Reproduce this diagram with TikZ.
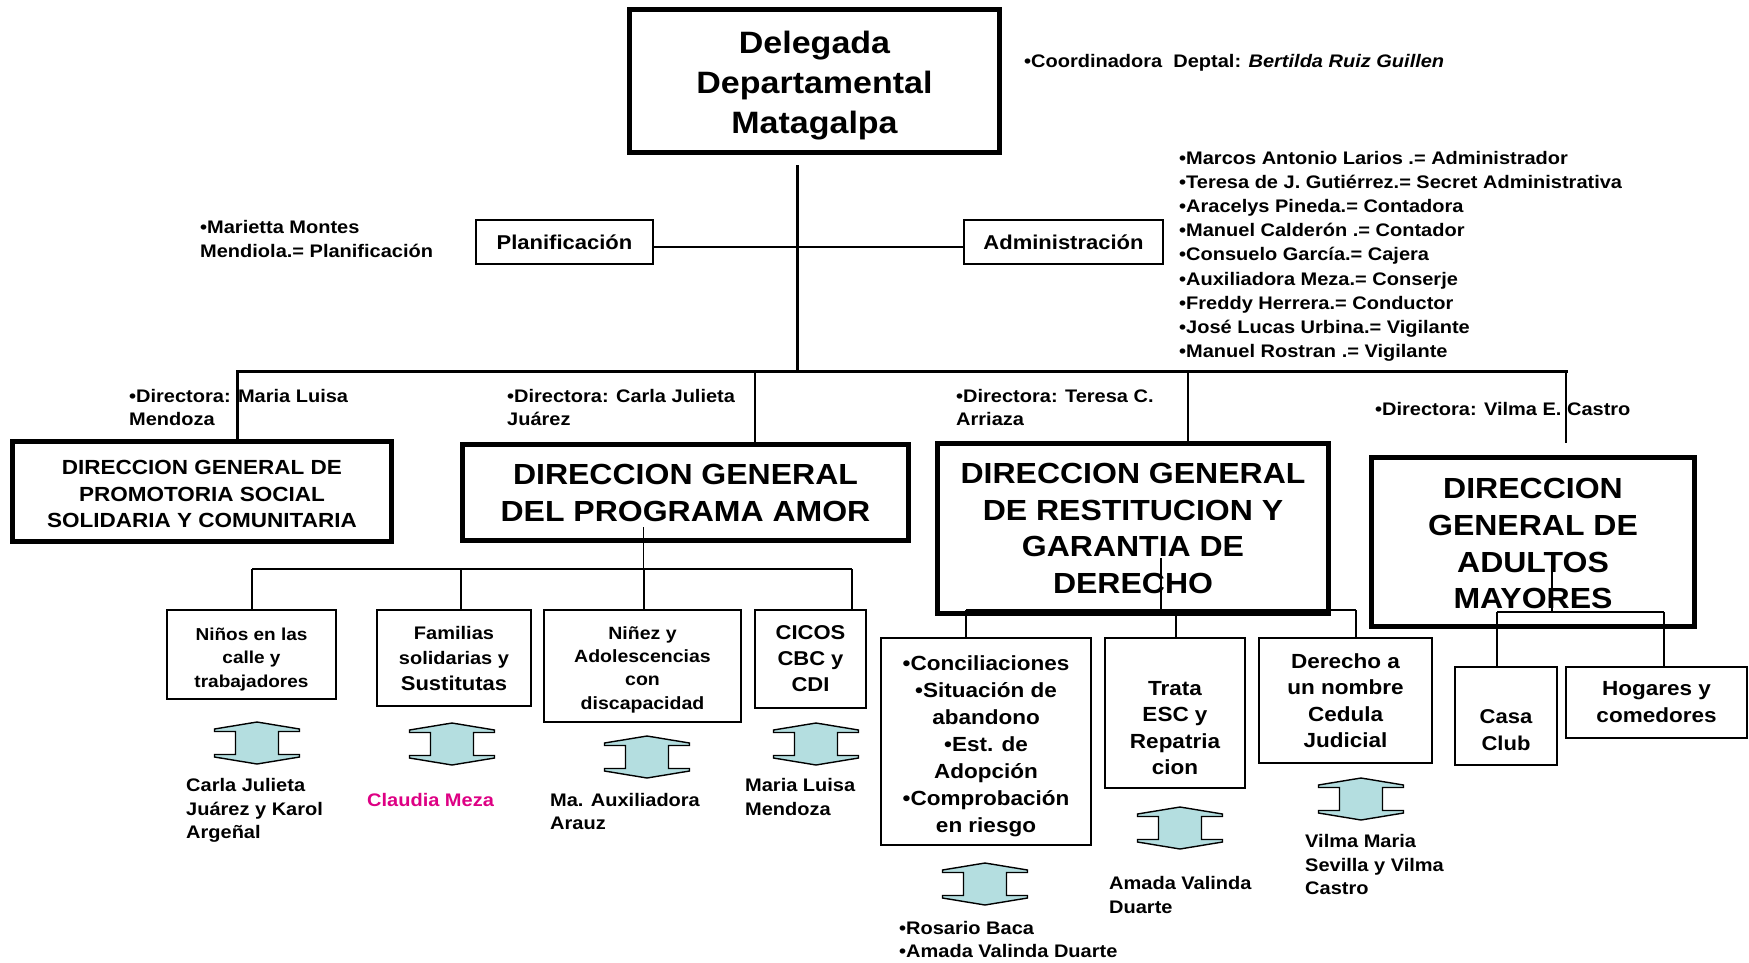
\documentclass[tikz,border=0pt]{standalone}
\usepackage{fontspec}
\setmainfont{Liberation Sans}[FakeStretch=1.1]
\definecolor{arrowfill}{RGB}{180,222,224}
\definecolor{magentatxt}{RGB}{222,0,132}
\newcommand\fsz[2]{\fontsize{\fpeval{#1/1.1}}{#2}\selectfont\bfseries}
\newcommand\dn[1]{\rule{0pt}{\dimexpr0.75em+#1*2\relax}}
\begin{document}
\begin{tikzpicture}[x=1pt,y=-1pt,
  bigbox/.style={draw, line width=5pt, inner sep=0pt, align=center},
  thinbox/.style={draw, line width=1.6pt, inner sep=0pt, align=center},
  lbl/.style={inner sep=0pt, align=left, anchor=west, font=\fsz{20}{23.5}},
  busline/.style={line width=3.5pt, line cap=rect},
  dropline/.style={line width=2.5pt},
  subline/.style={line width=1.6pt},
  udarr/.pic={\draw[fill=arrowfill, line width=1.4pt, line join=miter]
     (0,0) -- (42.5,7) -- (42.5,9.5) -- (21.5,9.5) -- (21.5,32.5) -- (42.5,32.5)
     -- (42.5,35) -- (0,42) -- (-42.5,35) -- (-42.5,32.5) -- (-21.5,32.5)
     -- (-21.5,9.5) -- (-42.5,9.5) -- (-42.5,7) -- cycle;}
]
\useasboundingbox (0,0) rectangle (1749,962);
\fill[white] (0,0) rectangle (1749,962);

% top
\node[bigbox, minimum width=370pt, minimum height=143pt, font=\fsz{34}{40}] (top) at (814.5,81) {\dn{4.5pt}Delegada\\Departamental\\Matagalpa};
\node[lbl] (coord) at (1024,62.3) {•Coordinadora\ \ Deptal: \textit{Bertilda Ruiz Guillen}};

% staff
\node[thinbox, minimum width=177pt, minimum height=44pt, font=\fsz{22}{26}] (plan) at (564.5,242) {Planificación};
\node[thinbox, minimum width=199pt, minimum height=44pt, font=\fsz{22}{26}] (admin) at (1063.5,242) {Administración};
\node[lbl, font=\fsz{20}{24}] (mari) at (200,239.2) {•Marietta Montes\\Mendiola.= Planificación};
\node[lbl, font=\fsz{20}{24.1}] (adlist) at (1179,256.3) {•Marcos Antonio Larios .= Administrador\\
•Teresa de J. Gutiérrez.= Secret Administrativa\\
•Aracelys Pineda.= Contadora\\
•Manuel Calderón .= Contador\\
•Consuelo García.= Cajera\\
•Auxiliadora Meza.= Conserje\\
•Freddy Herrera.= Conductor\\
•José Lucas Urbina.= Vigilante\\
•Manuel Rostran .= Vigilante};

% directions
\node[bigbox, minimum width=379pt, minimum height=100pt, font=\fsz{22.5}{26.3}] (b1) at (202,491.5) {\dn{2.2pt}DIRECCION GENERAL DE\\PROMOTORIA SOCIAL\\SOLIDARIA Y COMUNITARIA};
\node[bigbox, minimum width=446pt, minimum height=96pt, font=\fsz{32}{37}] (b2) at (685.5,492.5) {DIRECCION GENERAL\\DEL PROGRAMA AMOR};
\node[bigbox, minimum width=391pt, minimum height=170pt, font=\fsz{32}{36.8}] (b3) at (1133,528.5) {DIRECCION GENERAL\\DE RESTITUCION Y\\GARANTIA DE\\DERECHO};
\node[bigbox, minimum width=323pt, minimum height=169pt, font=\fsz{32}{36.8}] (b4) at (1533,542) {\dn{1pt}DIRECCION\\GENERAL DE\\ADULTOS\\MAYORES};

\node[lbl] (dir1) at (129,407.6) {•Directora: Maria Luisa\\Mendoza};
\node[lbl] (dir2) at (507,407.6) {•Directora: Carla Julieta\\Juárez};
\node[lbl] (dir3) at (956,407.6) {•Directora: Teresa C.\\Arriaza};
\node[lbl] (dir4) at (1375,409.1) {•Directora: Vilma E. Castro};

% programa amor children
\node[thinbox, minimum width=169pt, minimum height=89pt, font=\fsz{19}{23.5}] (c1) at (251.5,654.5) {\dn{4.5pt}Niños en las\\calle y\\trabajadores};
\node[thinbox, minimum width=154pt, minimum height=96pt, font=\fsz{20}{25.5}] (c2) at (454,658) {Familias\\solidarias y\\{\fsz{22}{25.5}Sustitutas}};
\node[thinbox, minimum width=197pt, minimum height=112pt, font=\fsz{19.5}{23.3}] (c3) at (642.5,666) {\dn{3.3pt}Niñez y\\Adolescencias\\con\\discapacidad};
\node[thinbox, minimum width=111pt, minimum height=98pt, font=\fsz{22}{26}] (c4) at (810.5,659) {CICOS\\CBC y\\CDI};

% restitucion children
\node[thinbox, minimum width=210pt, minimum height=207pt, font=\fsz{22.5}{27}] (d1) at (986,741.5) {\dn{4.5pt}•Conciliaciones\\•Situación de\\abandono\\•Est. de\\Adopción\\•Comprobación\\en riesgo};
\node[thinbox, minimum width=140pt, minimum height=150pt, font=\fsz{22.5}{26.5}] (d2) at (1175,713) {\dn{14.5pt}Trata\\ESC y\\Repatria\\cion};
\node[thinbox, minimum width=173pt, minimum height=125pt, font=\fsz{22.5}{26.5}] (d3) at (1345.5,700.5) {Derecho a\\un nombre\\Cedula\\Judicial};

% adultos children
\node[thinbox, minimum width=102pt, minimum height=98pt, font=\fsz{22}{27}] (e1) at (1506,716) {\dn{13.4pt}Casa\\Club};
\node[thinbox, minimum width=181pt, minimum height=71pt, font=\fsz{22.5}{27}] (e2) at (1656.5,702.5) {Hogares y\\comedores};

% arrows
\pic at (257,722) {udarr};
\pic at (452,723) {udarr};
\pic at (647,736) {udarr};
\pic at (816,723) {udarr};
\pic at (985,863) {udarr};
\pic at (1180,807) {udarr};
\pic at (1361,778) {udarr};

% names under arrows
\node[lbl] (n1) at (186,810.8) {Carla Julieta\\Juárez y Karol\\Argeñal};
\node[lbl, text=magentatxt] (n2) at (367,800.1) {Claudia Meza};
\node[lbl] (n3) at (550,811.6) {Ma. Auxiliadora\\Arauz};
\node[lbl] (n4) at (745,797.1) {Maria Luisa\\Mendoza};
\node[lbl] (n5) at (899,939.6) {•Rosario Baca\\•Amada Valinda Duarte};
\node[lbl] (n6) at (1109,895.1) {Amada Valinda\\Duarte};
\node[lbl] (n7) at (1305,864.6) {Vilma Maria\\Sevilla y Vilma\\Castro};

% connectors: top
\coordinate (mtop) at (797,165);
\coordinate (mbot) at (797,371.5);
\draw[line width=3pt] (mtop) -- (mbot);
\draw[line width=1.6pt] ([yshift=-5pt]plan.east) -- ([yshift=-5pt]admin.west);

\coordinate (busL) at (237.5,371.5);
\coordinate (bus2) at (755,371.5);
\coordinate (bus3) at (1188,371.5);
\coordinate (busR) at (1566,371.5);
\coordinate (d4end) at (1566,443);
\draw[busline] (busL) -- (busR);
\draw[dropline] (busL) -- (busL |- b1.north);
\draw[dropline] (bus2) -- (bus2 |- b2.north);
\draw[dropline] (bus3) -- (bus3 |- b3.north);
\draw[dropline] (busR) -- (d4end);

% programa amor subtree
\coordinate (s2top) at (643.6,527);
\coordinate (s2) at (643.6,569);
\coordinate (k1) at (252,569);
\coordinate (k2) at (461,569);
\coordinate (k3) at (644,569);
\coordinate (k4) at (852,569);
\draw[subline] (s2top) -- (s2);
\draw[subline] (k1) -- (k4);
\draw[subline] (k1) -- (k1 |- c1.north);
\draw[subline] (k2) -- (k2 |- c2.north);
\draw[subline] (k3) -- (k3 |- c3.north);
\draw[subline] (k4) -- (k4 |- c4.north);

% restitucion subtree
\coordinate (s3top) at (1161,558);
\coordinate (s3) at (1161,610);
\coordinate (r1) at (966,610);
\coordinate (r2) at (1176,610);
\coordinate (r3) at (1356,610);
\draw[subline] (s3top) -- (s3);
\draw[subline] (r1) -- (r3);
\draw[subline] (r1) -- (r1 |- d1.north);
\draw[subline] (r2) -- (r2 |- d2.north);
\draw[subline] (r3) -- (r3 |- d3.north);

% adultos subtree
\coordinate (s4top) at (1552,572);
\coordinate (s4) at (1552,612);
\coordinate (a1) at (1497,612);
\coordinate (a2) at (1664,612);
\draw[subline] (s4top) -- (s4);
\draw[subline] (a1) -- (a2);
\draw[subline] (a1) -- (a1 |- e1.north);
\draw[subline] (a2) -- (a2 |- e2.north);
\end{tikzpicture}
\end{document}
